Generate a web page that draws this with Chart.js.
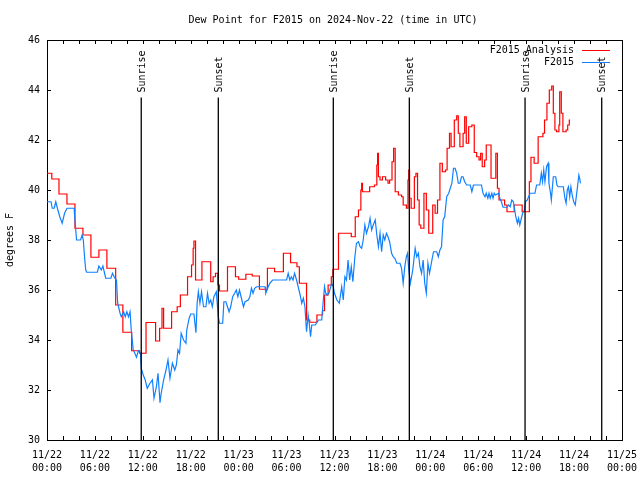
<!DOCTYPE html>
<html>
<head>
<meta charset="utf-8">
<script src="https://cdn.jsdelivr.net/npm/chart.js@4.4.1/dist/chart.umd.min.js"></script>
<style>
  html, body { margin: 0; padding: 0; background: #fff; }
  #wrap { width: 640px; height: 480px; }
</style>
</head>
<body>
<div id="wrap"><canvas id="dewChart" width="640" height="480"></canvas></div>
<script>
// hours since 2024-11-22 00:00 UTC
const analysisHours = [0, 0.6, 1.5, 2.5, 3.5, 4.5, 5.5, 6.5, 7.5, 8.6, 9.5, 10.6, 11.6, 12.4, 13.6, 14.1, 14.4, 14.6, 15.6, 16.3,
  16.7, 17.6, 18.1, 18.3, 18.4, 18.6, 19.4, 20.5, 20.8, 21.1, 21.4, 21.6, 22.6, 23.6, 24.0, 24.9, 25.7, 26.6, 27.6, 28.5,
  29.6, 30.5, 31.3, 31.6, 32.5, 32.9, 33.8, 34.5, 34.75, 35.2, 35.6, 35.8, 36.5, 38.1, 38.6, 39.0, 39.3, 39.4, 39.5, 40.4,
  41.0, 41.3, 41.4, 41.5, 41.7, 42.0, 42.4, 42.7, 42.9, 43.2, 43.4, 43.6, 44.0, 44.4, 44.6, 45.0, 45.2, 45.3, 45.4, 45.6,
  46.0, 46.2, 46.4, 46.6, 46.8, 47.2, 47.5, 47.8, 48.3, 48.6, 48.9, 49.2, 49.5, 49.9, 50.1, 50.4, 50.6, 51.0, 51.3, 51.5,
  51.7, 52.1, 52.3, 52.5, 52.8, 53.2, 53.5, 53.8, 54.1, 54.3, 54.5, 54.8, 55.0, 55.6, 56.2, 56.4, 56.6, 57.3, 57.6, 58.5,
  59.5, 60.4, 60.6, 61.0, 61.5, 62.1, 62.3, 62.6, 62.9, 63.2, 63.4, 63.6, 63.8, 64.1, 64.2, 64.4, 64.6, 65.0, 65.2, 65.4, 65.5];
const analysisValues = [40.67, 40.44, 39.84, 39.44, 38.47, 38.2, 37.31, 37.6, 36.87, 35.4, 34.31, 33.57, 33.47, 34.7, 33.96, 34.47, 35.27, 34.47, 35.13, 35.33,
  35.8, 36.53, 37.0, 37.67, 37.96, 36.4, 37.13, 36.33, 36.53, 36.67, 36.2, 35.96, 36.93, 36.53, 36.43, 36.63, 36.56, 36.03, 36.87, 36.73,
  37.47, 37.09, 36.93, 36.27, 34.8, 34.71, 35.0, 35.17, 35.8, 36.2, 36.53, 36.83, 38.27, 38.13, 38.93, 39.2, 40.0, 40.27, 39.93, 40.13,
  40.2, 41.0, 41.47, 40.53, 40.4, 40.53, 40.4, 40.27, 40.4, 41.13, 41.67, 39.93, 39.8, 39.73, 39.4, 39.27, 40.4, 40.8, 39.67, 39.27,
  40.53, 40.67, 39.6, 38.6, 38.47, 39.87, 39.2, 38.27, 39.4, 39.07, 39.6, 41.07, 40.73, 40.8, 41.67, 42.27, 41.73, 42.8, 42.97, 42.27,
  41.73, 42.27, 42.93, 41.87, 42.53, 42.6, 41.5, 41.33, 41.2, 41.47, 40.93, 41.2, 41.8, 40.47, 41.47, 40.07, 39.6, 39.4, 39.13, 39.4,
  39.13, 40.33, 41.31, 41.07, 42.13, 42.27, 42.8, 43.47, 44.0, 44.16, 43.07, 42.4, 42.33, 42.6, 43.93, 43.07, 42.33, 42.4, 42.6, 42.8, 42.8];

const stationHours = [0, 0.5, 0.66, 0.9, 1.1, 1.3, 1.6, 1.9, 2.2, 2.5, 3.4, 3.45, 3.6, 3.7, 4.2, 4.4, 4.55, 4.7, 4.85, 4.97,
  6.3, 6.5, 6.8, 7.0, 7.35, 8.0, 8.2, 8.5, 8.7, 8.85, 9.15, 9.3, 9.6, 9.8, 10.0, 10.2, 10.4, 10.55, 10.8, 11.0,
  11.2, 11.45, 11.7, 11.8, 12.05, 12.3, 12.55, 12.9, 13.2, 13.4, 13.7, 13.9, 14.15, 14.3, 14.6, 14.9, 15.15, 15.4, 15.7, 16.0,
  16.2, 16.4, 16.6, 16.8, 17.1, 17.4, 17.5, 17.8, 18.0, 18.4, 18.5, 18.65, 18.8, 18.95, 19.15, 19.35, 19.6, 19.9, 20.1, 20.3,
  20.5, 20.7, 20.9, 21.2, 21.35, 21.45, 21.6, 22.0, 22.15, 22.4, 22.6, 22.8, 23.0, 23.25, 23.5, 23.7, 23.9, 24.1, 24.3, 24.6,
  24.8, 25.2, 25.4, 25.6, 25.8, 26.0, 26.25, 27.3, 27.4, 27.7, 27.9, 28.25, 30.0, 30.2, 30.4, 30.6, 30.8, 31.0, 31.25, 31.45,
  31.7, 31.9, 32.1, 32.3, 32.4, 32.5, 32.7, 32.85, 33.0, 33.15, 33.6, 34.0, 34.4, 34.6, 34.75, 34.9, 35.1, 35.3, 35.65, 35.85,
  36.0, 36.3, 36.6, 36.9, 37.1, 37.3, 37.5, 37.7, 37.9, 38.1, 38.3, 38.55, 38.75, 39.0, 39.2, 39.4, 39.6, 39.8, 40.0, 40.25,
  40.45, 40.65, 40.85, 41.1, 41.3, 41.5, 41.7, 41.9, 42.1, 42.3, 42.5, 42.7, 42.9, 43.15, 43.35, 43.55, 43.8, 44.2, 44.4, 44.6,
  44.8, 45.0, 45.15, 45.3, 45.5, 45.8, 46.1, 46.3, 46.5, 46.7, 46.9, 47.1, 47.3, 47.5, 47.7, 47.9, 48.2, 48.4, 48.8, 49.0,
  49.2, 49.4, 49.6, 49.8, 50.05, 50.3, 50.7, 50.9, 51.1, 51.3, 51.5, 51.7, 51.9, 52.1, 52.3, 52.55, 53.0, 53.2, 53.4, 54.4,
  54.6, 54.85, 55.0, 55.2, 55.35, 55.5, 55.7, 55.85, 56.0, 56.15, 56.55, 56.7, 56.9, 57.1, 57.6, 57.8, 58.0, 58.2, 58.4, 58.5,
  58.7, 58.9, 59.05, 59.2, 59.4, 59.55, 59.8, 59.9, 60.15, 60.3, 60.5, 61.1, 61.3, 61.7, 61.9, 62.05, 62.2, 62.35, 62.55, 62.75,
  62.85, 63.05, 63.15, 63.4, 63.7, 63.85, 64.0, 64.65, 64.85, 65.0, 65.15, 65.3, 65.45, 65.6, 65.8, 65.95, 66.15, 66.35, 66.6, 66.7, 66.8];
const stationValues = [39.53, 39.53, 39.27, 39.27, 39.53, 39.27, 38.93, 38.67, 39.07, 39.27, 39.27, 39.0, 38.4, 38.0, 38.0, 38.2, 38.0, 37.33, 36.8, 36.71,
  36.71, 36.96, 36.8, 36.96, 36.47, 36.47, 36.67, 36.47, 36.4, 35.47, 35.07, 34.93, 35.13, 34.93, 35.13, 34.93, 35.13, 34.4, 33.6, 33.47,
  33.31, 33.57, 33.47, 32.87, 32.6, 32.4, 32.07, 32.27, 32.4, 31.67, 32.13, 32.67, 31.49, 31.87, 32.4, 32.8, 33.2, 32.47, 33.07, 32.8,
  33.0, 33.6, 33.47, 34.27, 34.0, 33.87, 34.4, 34.87, 35.04, 35.04, 34.73, 34.29, 35.47, 35.93, 35.47, 35.93, 35.33, 35.33, 35.87, 35.47,
  35.6, 35.33, 35.73, 35.93, 35.33, 34.93, 34.67, 34.67, 35.53, 35.53, 35.33, 35.13, 35.33, 35.73, 35.87, 36.0, 35.73, 36.0, 35.73, 35.33,
  35.53, 35.6, 35.73, 36.07, 35.87, 36.07, 36.13, 36.13, 35.87, 36.13, 36.27, 36.4, 36.4, 36.67, 36.4, 36.53, 36.4, 36.67, 36.4, 36.13,
  35.8, 35.47, 35.67, 35.33, 34.8, 34.33, 35.0, 34.63, 34.13, 34.6, 34.6, 34.8, 34.8, 35.6, 36.13, 35.87, 35.8, 35.87, 36.27, 36.13,
  35.87, 35.6, 35.47, 36.13, 35.6, 36.53, 36.4, 37.2, 36.4, 36.93, 36.33, 37.33, 37.87, 37.93, 37.73, 37.67, 38.0, 38.6, 38.27, 38.53,
  38.87, 38.4, 38.6, 38.8, 38.2, 37.73, 38.27, 37.53, 38.2, 38.0, 38.27, 38.13, 37.93, 37.47, 37.33, 37.27, 37.07, 37.07, 36.87, 36.27,
  36.93, 37.33, 37.47, 36.8, 36.27, 36.8, 37.67, 37.33, 37.47, 36.93, 36.67, 37.2, 36.27, 35.87, 37.07, 36.67, 37.2, 37.53, 37.53, 37.33,
  37.6, 37.73, 38.8, 38.93, 39.73, 39.87, 40.27, 40.87, 40.87, 40.67, 40.27, 40.27, 40.53, 40.53, 40.33, 40.2, 40.2, 39.93, 40.2, 40.2,
  39.87, 39.73, 39.87, 39.67, 39.87, 39.67, 39.87, 39.67, 39.87, 39.8, 39.87, 39.67, 39.53, 39.31, 39.31, 39.4, 39.33, 39.6, 39.53, 39.33,
  38.93, 38.67, 38.87, 38.6, 38.87, 39.07, 39.2, 39.53, 39.6, 39.73, 39.87, 39.87, 40.2, 40.2, 40.67, 40.33, 40.8, 40.33, 40.93, 41.07,
  40.27, 39.87, 39.6, 40.53, 40.53, 40.2, 40.13, 40.13, 39.67, 39.47, 40.0, 40.13, 39.73, 40.13, 39.73, 39.53, 39.4, 39.93, 40.6, 40.47, 40.27];

const sunHours = [11.8, 21.45, 35.85, 45.37, 59.86, 69.46];
const sunLabels = ['Sunrise', 'Sunset', 'Sunrise', 'Sunset', 'Sunrise', 'Sunset'];
const sunLineTop = 43.7;

const tickDays = ['11/22', '11/22', '11/22', '11/22', '11/23', '11/23', '11/23', '11/23', '11/24', '11/24', '11/24', '11/24', '11/25'];
const tickTimes = ['00:00', '06:00', '12:00', '18:00', '00:00', '06:00', '12:00', '18:00', '00:00', '06:00', '12:00', '18:00', '00:00'];

const seriesNames = ['F2015 Analysis', 'F2015'];
const seriesColors = ['#ff0000', '#1080ff'];

const FONT = "'DejaVu Sans Mono', monospace";

function toPoints(xs, ys) {
  return xs.map((x, i) => ({ x: x, y: ys[i] }));
}

// vertical sunrise/sunset lines, separated by gaps
const sunPoints = [];
sunHours.forEach(h => {
  sunPoints.push({ x: h, y: 30 }, { x: h, y: sunLineTop }, { x: h, y: null });
});

const gnuplotFrame = {
  id: 'gnuplotFrame',
  beforeDatasetsDraw(chart) {
    const { ctx, chartArea: a, scales } = chart;
    ctx.save();
    ctx.strokeStyle = '#000';
    ctx.lineWidth = 1;
    ctx.beginPath();
    for (let h = 0; h <= 72; h += 2) {
      const x = Math.round(scales.x.getPixelForValue(h)) + 0.5;
      ctx.moveTo(x, a.bottom); ctx.lineTo(x, a.bottom - 4);
      ctx.moveTo(x, a.top); ctx.lineTo(x, a.top + 4);
    }
    for (let v = 30; v <= 46; v += 2) {
      const y = Math.round(scales.y.getPixelForValue(v)) + 0.5;
      ctx.moveTo(a.left, y); ctx.lineTo(a.left + 4, y);
      ctx.moveTo(a.right, y); ctx.lineTo(a.right - 4, y);
    }
    ctx.stroke();
    ctx.strokeRect(Math.round(a.left) + 0.5, Math.round(a.top) + 0.5,
      Math.round(a.right - a.left), Math.round(a.bottom - a.top));
    ctx.restore();
  },
  afterDraw(chart) {
    const { ctx, scales } = chart;
    ctx.save();
    ctx.fillStyle = '#000';
    ctx.font = '10px ' + FONT;

    ctx.textAlign = 'center';
    ctx.textBaseline = 'middle';
    ctx.fillText('Dew Point for F2015 on 2024-Nov-22 (time in UTC)', 333, 20);

    ctx.save();
    ctx.translate(10, 240);
    ctx.rotate(-Math.PI / 2);
    ctx.fillText('degrees F', 0, 0);
    ctx.restore();

    const labelBase = scales.y.getPixelForValue(sunLineTop) - 5;
    sunHours.forEach((h, i) => {
      const x = scales.x.getPixelForValue(h);
      ctx.save();
      ctx.translate(x + 1, labelBase);
      ctx.rotate(-Math.PI / 2);
      ctx.textAlign = 'left';
      ctx.fillText(sunLabels[i], 0, 0);
      ctx.restore();
    });

    // key, top right like gnuplot
    seriesNames.forEach((name, i) => {
      const y = 50 + i * 12;
      ctx.textAlign = 'right';
      ctx.fillStyle = '#000';
      ctx.fillText(name, 574, y);
      ctx.strokeStyle = seriesColors[i];
      ctx.lineWidth = 1;
      ctx.beginPath();
      ctx.moveTo(582, y + 0.5);
      ctx.lineTo(610, y + 0.5);
      ctx.stroke();
    });
    ctx.restore();
  }
};

const ctx = document.getElementById('dewChart').getContext('2d');
new Chart(ctx, {
  type: 'line',
  data: {
    datasets: [
      {
        label: 'sun',
        data: sunPoints,
        borderColor: '#000',
        borderWidth: 1.3,
        pointRadius: 0,
        spanGaps: false,
        order: 0
      },
      {
        label: seriesNames[1],
        data: toPoints(stationHours, stationValues),
        borderColor: seriesColors[1],
        borderWidth: 1.2,
        pointRadius: 0,
        tension: 0,
        order: 1
      },
      {
        label: seriesNames[0],
        data: toPoints(analysisHours, analysisValues),
        borderColor: seriesColors[0],
        borderWidth: 1.2,
        pointRadius: 0,
        stepped: 'before',
        order: 2
      }
    ]
  },
  options: {
    responsive: false,
    animation: false,
    devicePixelRatio: 1,
    layout: { padding: { left: 0, right: 18, top: 40, bottom: 0 } },
    plugins: {
      legend: { display: false },
      title: { display: false },
      tooltip: { enabled: false }
    },
    scales: {
      x: {
        type: 'linear',
        min: 0,
        max: 72,
        afterFit: s => { s.height = 40; s.paddingRight = 0; s.paddingLeft = 0; },
        grid: { display: false, drawTicks: false },
        border: { display: false },
        ticks: {
          stepSize: 6,
          autoSkip: false,
          maxRotation: 0,
          padding: 9,
          color: '#000',
          font: { family: FONT, size: 10, lineHeight: 1.3 },
          callback: v => {
            const i = Math.round(v / 6);
            return [tickDays[i], tickTimes[i]];
          }
        }
      },
      y: {
        min: 30,
        max: 46,
        afterFit: s => { s.width = 47; },
        grid: { display: false, drawTicks: false },
        border: { display: false },
        ticks: {
          stepSize: 2,
          padding: 7,
          color: '#000',
          font: { family: FONT, size: 10 }
        }
      }
    }
  },
  plugins: [gnuplotFrame]
});
</script>
</body>
</html>
